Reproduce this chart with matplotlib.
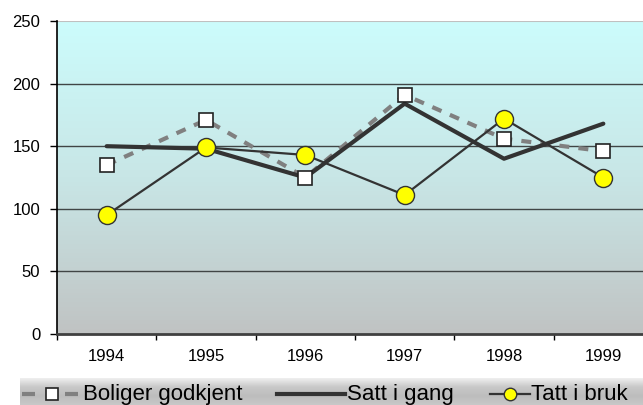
import numpy as np
import matplotlib
matplotlib.use("Agg")
import matplotlib.pyplot as plt
from matplotlib.colors import LinearSegmentedColormap

plt.rcParams["font.family"] = ["Liberation Sans", "DejaVu Sans"]

years = ["1994", "1995", "1996", "1997", "1998", "1999"]
godkjent = [135, 171, 125, 191, 156, 146]
satt_i_gang = [150, 148, 125, 184, 140, 168]
tatt_i_bruk = [95, 149, 143, 111, 172, 125]
y_ticks = [0, 50, 100, 150, 200, 250]

W, H = 643, 405
fig = plt.figure(figsize=(W / 100, H / 100), dpi=100)
ax = fig.add_axes([57 / W, (H - 334) / H, 596 / W, 313 / H])

# gradient background of the plot area
bg = LinearSegmentedColormap.from_list("bg", ["#c0c3c3", "#c8e6e6", "#ccfcfc"])
grad = np.linspace(0, 1, 256).reshape(-1, 1)
ax.imshow(grad, cmap=bg, aspect="auto", extent=[0, 1, 0, 1],
          transform=ax.transAxes, origin="lower", zorder=0)

x = np.arange(len(years))

for v in y_ticks[1:-1]:
    ax.axhline(v, color="#404545", lw=1.0, zorder=1)
ax.axhline(250, color="#c0c0c0", lw=1.5, zorder=1)

ax.plot(x, godkjent, color="#808080", lw=3, dashes=(2.4, 2.2), zorder=2)
ax.plot(x, satt_i_gang, color="#333333", lw=3, solid_capstyle="round", zorder=3)
ax.plot(x, tatt_i_bruk, color="#333333", lw=1.6, zorder=3)
ax.plot(x, godkjent, ls="none", marker="s", ms=10.5, mfc="white",
        mec="#222222", mew=1.2, zorder=4)
ax.plot(x, tatt_i_bruk, ls="none", marker="o", ms=13, mfc="#ffff00",
        mec="#333333", mew=1.0, zorder=5)

ax.set_xlim(-0.5, 5.5)
ax.set_ylim(0, 250)
ax.set_yticks(y_ticks)
ax.set_yticklabels([str(v) for v in y_ticks], fontsize=12)
ax.set_xticks(np.arange(-0.5, 6, 1))
ax.set_xticklabels([])
ax.set_xticks(x, minor=True)
ax.set_xticklabels(years, minor=True, fontsize=12)
ax.tick_params(axis="x", which="minor", length=0, pad=11)
ax.tick_params(axis="x", which="major", length=4, width=1, direction="out")
ax.tick_params(axis="y", length=5, width=1, pad=7, direction="out")

for s in ["top", "right"]:
    ax.spines[s].set_visible(False)
ax.spines["left"].set_color("black")
ax.spines["left"].set_linewidth(1.2)
ax.spines["bottom"].set_color("#404040")
ax.spines["bottom"].set_linewidth(2)

# legend strip with its own gradient, laid out in pixel units
lax = fig.add_axes([0, 0, 1, 27 / H])
lax.set_axis_off()
lg = LinearSegmentedColormap.from_list("lg", ["#c8c8c8", "#bdbdbd", "#c8c8c8", "#f0f0f0"])
lax.imshow(grad, cmap=lg, aspect="auto", extent=[20, W, 0, 27], origin="lower")

ly = 11
base = 5
# Boliger godkjent
lax.plot([22, 35], [ly, ly], color="#808080", lw=3, solid_capstyle="butt")
lax.plot([65, 78], [ly, ly], color="#808080", lw=3, solid_capstyle="butt")
lax.plot([52], [ly], ls="none", marker="s", ms=8, mfc="white", mec="#222222", mew=1.2)
lax.text(83, base, "Boliger godkjent", fontsize=16, va="baseline", ha="left")
# Satt i gang
lax.plot([277, 345], [ly, ly], color="#333333", lw=3)
lax.text(347, base, "Satt i gang", fontsize=16, va="baseline", ha="left")
# Tatt i bruk
lax.plot([490, 530], [ly, ly], color="#333333", lw=1.6)
lax.plot([510], [ly], ls="none", marker="o", ms=9, mfc="#ffff00", mec="#333333")
lax.text(531, base, "Tatt i bruk", fontsize=16, va="baseline", ha="left")
lax.set_xlim(0, W)
lax.set_ylim(0, 27)

fig.savefig("out.png", dpi=100)
